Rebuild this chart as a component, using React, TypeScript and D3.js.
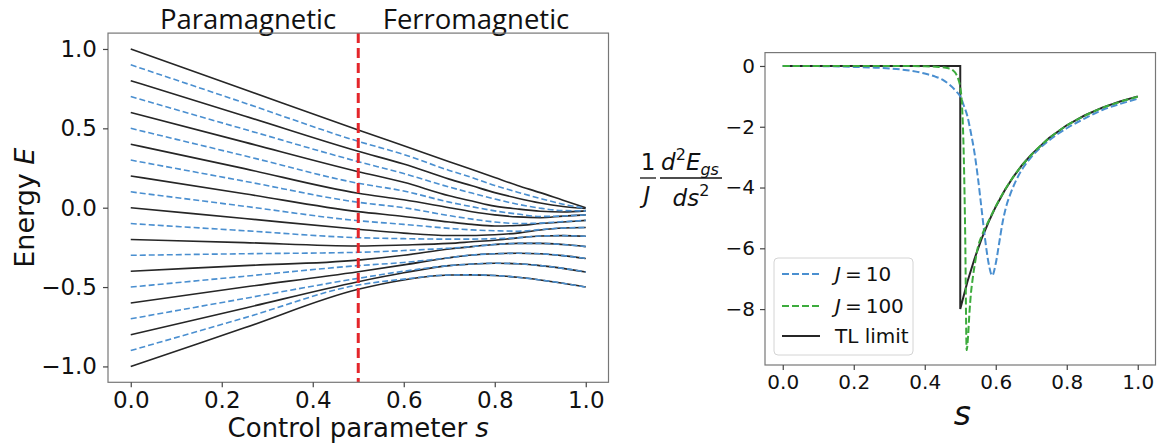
import React, { useRef, useEffect } from 'react';
import * as d3 from 'd3';

const sGrid = [0, 0.25, 0.5, 0.6, 0.7, 0.75, 0.8, 0.85, 0.9, 0.95, 1.0];

// black solid levels (start at -1.0, -0.8, ..., 1.0)
const solidLevels = [
  [-1.0, -0.757, -0.514, -0.455, -0.424, -0.423, -0.427, -0.438, -0.455, -0.476, -0.5],
  [-0.8, -0.633, -0.466, -0.41, -0.365, -0.355, -0.35, -0.353, -0.365, -0.382, -0.405],
  [-0.6, -0.5, -0.403, -0.36, -0.315, -0.298, -0.29, -0.287, -0.29, -0.302, -0.32],
  [-0.4, -0.365, -0.33, -0.3, -0.26, -0.245, -0.232, -0.225, -0.225, -0.232, -0.245],
  [-0.2, -0.22, -0.241, -0.235, -0.225, -0.215, -0.205, -0.19, -0.178, -0.176, -0.18],
  [0.0, -0.068, -0.136, -0.16, -0.175, -0.175, -0.17, -0.16, -0.14, -0.128, -0.125],
  [0.2, 0.088, -0.025, -0.055, -0.09, -0.105, -0.115, -0.112, -0.1, -0.09, -0.08],
  [0.4, 0.246, 0.091, 0.05, 0.0, -0.025, -0.045, -0.058, -0.063, -0.053, -0.045],
  [0.6, 0.413, 0.227, 0.16, 0.075, 0.042, 0.01, -0.008, -0.022, -0.027, -0.02],
  [0.8, 0.578, 0.355, 0.275, 0.18, 0.138, 0.095, 0.06, 0.03, 0.008, -0.005],
  [1.0, 0.745, 0.49, 0.39, 0.29, 0.24, 0.19, 0.14, 0.095, 0.047, 0.0],
];

// blue dashed levels (start at -0.9, -0.7, ..., 0.9)
const dashedLevels = [
  [-0.9, -0.694, -0.487, -0.45, -0.424, -0.423, -0.427, -0.438, -0.455, -0.476, -0.5],
  [-0.7, -0.572, -0.445, -0.4, -0.365, -0.355, -0.35, -0.353, -0.365, -0.382, -0.405],
  [-0.5, -0.432, -0.365, -0.345, -0.315, -0.298, -0.29, -0.287, -0.29, -0.302, -0.32],
  [-0.3, -0.29, -0.281, -0.27, -0.255, -0.245, -0.232, -0.225, -0.225, -0.232, -0.245],
  [-0.1, -0.145, -0.189, -0.195, -0.198, -0.198, -0.195, -0.19, -0.178, -0.176, -0.18],
  [0.1, 0.009, -0.082, -0.105, -0.13, -0.14, -0.145, -0.148, -0.138, -0.128, -0.125],
  [0.3, 0.167, 0.034, 0.0, -0.05, -0.072, -0.09, -0.1, -0.097, -0.088, -0.08],
  [0.5, 0.327, 0.154, 0.105, 0.035, 0.006, -0.02, -0.04, -0.055, -0.052, -0.045],
  [0.7, 0.494, 0.29, 0.215, 0.13, 0.092, 0.055, 0.022, -0.003, -0.018, -0.02],
  [0.9, 0.66, 0.418, 0.335, 0.235, 0.19, 0.14, 0.098, 0.058, 0.022, -0.005],
];

const transitionS = 0.5;
const leftXTicks = [0, 0.2, 0.4, 0.6, 0.8, 1.0];
const leftYTicks = [-1.0, -0.5, 0.0, 0.5, 1.0];

// ---- right panel: second derivative of ground state energy
const sJ10 = [0, 0.1, 0.2, 0.25, 0.3, 0.35, 0.4, 0.43, 0.45, 0.47, 0.49, 0.5, 0.51, 0.52, 0.53, 0.54, 0.55, 0.56, 0.57, 0.58, 0.59, 0.6, 0.61, 0.62, 0.63, 0.64, 0.66, 0.68, 0.7, 0.75, 0.8, 0.85, 0.9, 0.95, 1.0];
const eJ10 = [0, -0.005, -0.03, -0.05, -0.08, -0.14, -0.25, -0.35, -0.45, -0.62, -0.85, -1.0, -1.3, -1.65, -2.2, -2.85, -3.7, -4.7, -5.7, -6.5, -6.9, -6.5, -5.8, -5.1, -4.6, -4.25, -3.7, -3.3, -3.0, -2.45, -2.05, -1.73, -1.45, -1.25, -1.08];

const sJ100 = [0, 0.3, 0.4, 0.44, 0.46, 0.48, 0.49, 0.495, 0.5, 0.505, 0.51, 0.514, 0.518, 0.522, 0.526, 0.53, 0.535, 0.542, 0.55, 0.56, 0.58, 0.6, 0.65, 0.7, 0.75, 0.8, 0.85, 0.9, 0.95, 1.0];
const eJ100 = [0, 0, -0.01, -0.03, -0.06, -0.15, -0.3, -0.45, -0.7, -1.3, -3.0, -5.6, -9.35, -8.9, -8.1, -7.5, -7.0, -6.45, -5.95, -5.6, -5.1, -4.62, -3.64, -2.93, -2.38, -1.96, -1.64, -1.38, -1.18, -1.01];

const sTL = [0, 0.5, 0.5, 0.52, 0.54, 0.56, 0.58, 0.6, 0.625, 0.65, 0.675, 0.7, 0.75, 0.8, 0.85, 0.9, 0.95, 1.0];
const eTL = [0, 0, -8, -7.11, -6.35, -5.69, -5.13, -4.63, -4.1, -3.64, -3.25, -2.92, -2.37, -1.95, -1.63, -1.37, -1.17, -1.0];

const rightXTicks = [0, 0.2, 0.4, 0.6, 0.8, 1.0];
const rightYTicks = [-8, -6, -4, -2, 0];
const legendLabels = ['10', '100', 'TL limit'];

const BLACK = '#262626';
const BLUE = '#4a8fd0';
const GREEN = '#3cab3c';
const RED = '#e4262b';
const FONT = 'DejaVu Sans';

// left scales
const lx = d3.scaleLinear().domain([-0.05, 1.05]).range([108, 608.5]);
const ly = d3.scaleLinear().domain([-1.1, 1.1]).range([382.3, 33.1]);
// right scales
const rx = d3.scaleLinear().domain([-0.05, 1.05]).range([765, 1155.5]);
const ry = d3.scaleLinear().domain([-9.84, 0.44]).range([365, 52.6]);

const levelLine = d3.line<number>().x((d, i) => lx(sGrid[i])).y(d => ly(d)).curve(d3.curveMonotoneX);
const pairLine = (xs: number[], ys: number[], curve: any) =>
  d3.line<number>().x((d, i) => rx(xs[i])).y(d => ry(d)).curve(curve)(ys) || '';

export default function App() {
  const ref = useRef<SVGSVGElement>(null);

  useEffect(() => {
    const svg = d3.select(ref.current);
    const style = (g: any, size: number) => {
      g.select('.domain').remove();
      g.selectAll('text').attr('font-family', FONT).attr('font-size', size).attr('fill', '#111');
      g.selectAll('line').attr('stroke', '#444').attr('stroke-width', 1.2);
    };
    const f1 = d3.format('.1f');

    svg.select('.lxa').attr('transform', `translate(0,${ly.range()[0]})`)
      .call(d3.axisBottom(lx).tickValues(leftXTicks).tickFormat(f1 as any).tickSize(5).tickPadding(4) as any)
      .call((g: any) => style(g, 23));
    svg.select('.lya').attr('transform', `translate(${lx.range()[0]},0)`)
      .call(d3.axisLeft(ly).tickValues(leftYTicks).tickFormat(f1 as any).tickSize(5).tickPadding(6) as any)
      .call((g: any) => style(g, 23));
    svg.select('.rxa').attr('transform', `translate(0,${ry.range()[0]})`)
      .call(d3.axisBottom(rx).tickValues(rightXTicks).tickFormat(f1 as any).tickSize(5).tickPadding(5) as any)
      .call((g: any) => style(g, 20));
    svg.select('.rya').attr('transform', `translate(${rx.range()[0]},0)`)
      .call(d3.axisLeft(ry).tickValues(rightYTicks).tickFormat(d3.format('d') as any).tickSize(5).tickPadding(5) as any)
      .call((g: any) => style(g, 20));
  }, []);

  const [lx0, lx1] = lx.range();
  const [ly0, ly1] = ly.range();
  const [rx0, rx1] = rx.range();
  const [ry0, ry1] = ry.range();

  const legX = 774, legY = 258;
  const rowY = [274, 306, 336];

  return (
    <svg ref={ref} width={1169} height={446}
      style={{ position: 'absolute', left: 0, top: 0, background: '#fff' }}>
      {/* headers */}
      <text x={248} y={29} textAnchor="middle" fontFamily="Open Sans" fontSize={27.5} fill="#111">Paramagnetic</text>
      <text x={476} y={29} textAnchor="middle" fontFamily="Open Sans" fontSize={27.5} fill="#111">Ferromagnetic</text>

      {/* left panel */}
      <g>
        {solidLevels.map((lv, i) => (
          <path key={'s' + i} d={levelLine(lv) || ''} fill="none" stroke={BLACK} strokeWidth={1.6} />
        ))}
        {dashedLevels.map((lv, i) => (
          <path key={'d' + i} d={levelLine(lv) || ''} fill="none" stroke={BLUE} strokeWidth={1.6} strokeDasharray="6,3" />
        ))}
        <line x1={lx(transitionS)} x2={lx(transitionS)} y1={ly1} y2={ly0} stroke={RED} strokeWidth={3} strokeDasharray="10,5" />
        <rect x={lx0} y={ly1} width={lx1 - lx0} height={ly0 - ly1} fill="none" stroke="#777" strokeWidth={1.2} />
        <g className="lxa" />
        <g className="lya" />
        <text x={(lx0 + lx1) / 2} y={437} textAnchor="middle" fontFamily={FONT} fontSize={26} fill="#111">
          Control parameter <tspan fontStyle="italic">s</tspan>
        </text>
        <text transform={`translate(34,${(ly0 + ly1) / 2}) rotate(-90)`} textAnchor="middle" fontFamily={FONT} fontSize={27} fill="#111">
          Energy <tspan fontStyle="italic">E</tspan>
        </text>
      </g>

      {/* right panel */}
      <g>
        <path d={pairLine(sTL, eTL, d3.curveLinear)} fill="none" stroke={BLACK} strokeWidth={2} />
        <path d={pairLine(sJ10, eJ10, d3.curveMonotoneX)} fill="none" stroke={BLUE} strokeWidth={2} strokeDasharray="7,3" />
        <path d={pairLine(sJ100, eJ100, d3.curveMonotoneX)} fill="none" stroke={GREEN} strokeWidth={2} strokeDasharray="7,3" />
        <rect x={rx0} y={ry1} width={rx1 - rx0} height={ry0 - ry1} fill="none" stroke="#777" strokeWidth={1.2} />
        <g className="rxa" />
        <g className="rya" />

        {/* legend */}
        <rect x={legX} y={legY} width={139} height={97} rx={4} fill="#fff" fillOpacity={0.85} stroke="#d4d4d4" strokeWidth={1} />
        {legendLabels.map((lab, i) => (
          <g key={lab}>
            <line x1={782} x2={820} y1={rowY[i]} y2={rowY[i]}
              stroke={i === 0 ? BLUE : i === 1 ? GREEN : BLACK} strokeWidth={2}
              strokeDasharray={i < 2 ? '7,3' : undefined} />
            <text x={835} y={rowY[i] + 7} fontFamily={FONT} fontSize={20} fill="#111">
              {i < 2 ? (<><tspan fontStyle="italic">J</tspan>{'\u2009=\u2009' + lab}</>) : lab}
            </text>
          </g>
        ))}

        {/* axis labels */}
        <text x={(rx0 + rx1) / 2 + 2} y={425} textAnchor="middle" fontFamily={FONT} fontSize={33} fontStyle="italic" fill="#111">s</text>
        <g fontFamily={FONT} fill="#111">
          <text x={648} y={170} textAnchor="middle" fontSize={23}>1</text>
          <line x1={640} x2={656} y1={178} y2={178} stroke="#111" strokeWidth={1.3} />
          <text x={647} y={203} textAnchor="middle" fontSize={23} fontStyle="italic">J</text>
          <text x={690} y={170} textAnchor="middle" fontSize={23} fontStyle="italic">
            d<tspan fontSize={16} fontStyle="normal" dy={-10}>2</tspan><tspan dy={10}>E</tspan><tspan fontSize={16} dy={5}>gs</tspan>
          </text>
          <line x1={660} x2={722} y1={178} y2={178} stroke="#111" strokeWidth={1.3} />
          <text x={691} y={206} textAnchor="middle" fontSize={23} fontStyle="italic">
            ds<tspan fontSize={16} fontStyle="normal" dy={-10}>2</tspan>
          </text>
        </g>
      </g>
    </svg>
  );
}
